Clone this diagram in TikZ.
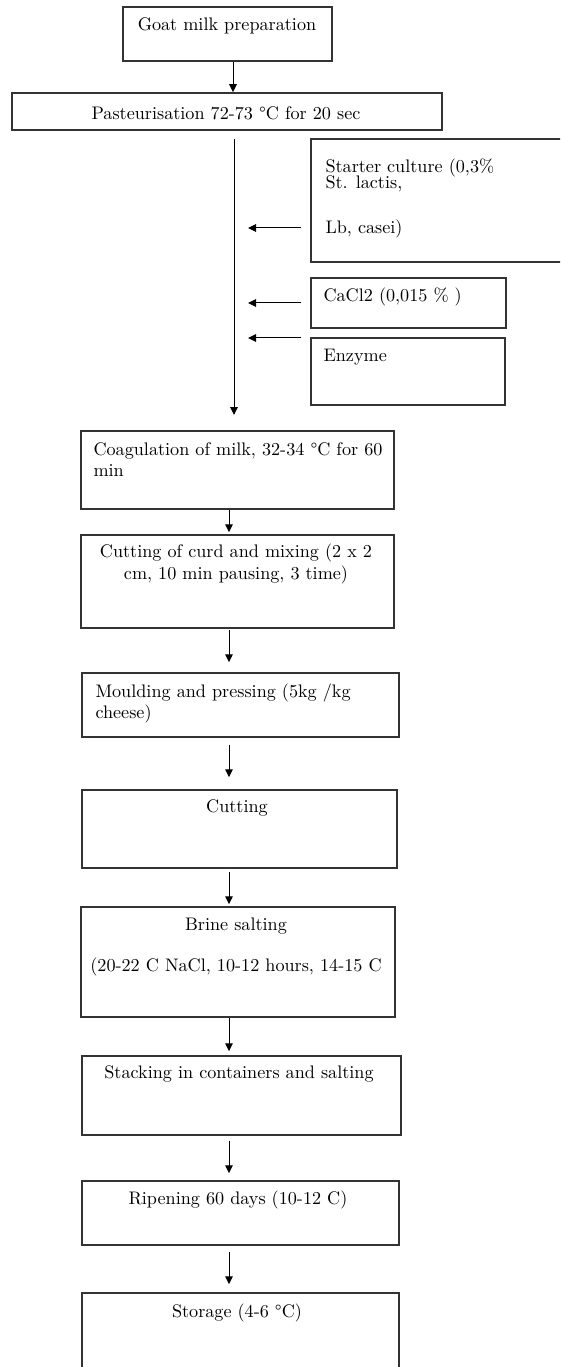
\documentclass[tikz,border=0pt]{standalone}
\usetikzlibrary{fit,arrows.meta}

\begin{document}
\begin{tikzpicture}[x=0.6pt, y=-0.6pt, line width=0.6pt,
        box/.style={draw=black!80, line width=0.9pt, inner sep=0pt},
        txt/.style={inner sep=0pt, font=\fontsize{10.9}{13}\selectfont},
        >={Triangle[length=4.8pt,width=4.6pt]}]
        \useasboundingbox (0,0) rectangle (560,1367);
        \clip (0,0) rectangle (560,1367);
        % boxes
        \node [box, fit={(123,7) (332,61)}] (goat) {};
        \node [box, fit={(12,93) (442,130)}] (pasteur) {};
        \node [box, fit={(311,139) (620,262)}] (starter) {};
        \node [box, fit={(311,278) (506,328)}] (cacl) {};
        \node [box, fit={(311,338) (505,405)}] (enzyme) {};
        \node [box, fit={(81,431) (394,509)}] (coag) {};
        \node [box, fit={(81,535) (394,628)}] (curd) {};
        \node [box, fit={(82,673) (399,737)}] (mould) {};
        \node [box, fit={(82,790) (397,868)}] (cut) {};
        \node [box, fit={(81,907) (395,1017)}] (brine) {};
        \node [box, fit={(82,1056) (401,1135)}] (stack) {};
        \node [box, fit={(82,1181) (399,1245)}] (ripen) {};
        \node [box, fit={(82,1293) (399,1420)}] (storage) {};
        % texts
        \node [txt] (goatT) at (227,26) {Goat milk preparation};
        \node [txt] (pasteurT) at (226,113) {Pasteurisation 72-73 °C for 20 sec};
        \node [txt, anchor=north west, align=left] (starterT) at (325,158) {Starter culture (0,3\%\\[-3pt] St. lactis,\\[14pt] Lb, casei)};
        \node [txt, anchor=west] (caclT) at (323,297) {CaCl2 (0,015 \% )};
        \node [txt, anchor=west] (enzymeT) at (323,357) {Enzyme};
        \node [txt, anchor=north west, align=left] (coagT) at (93,442) {Coagulation of milk, 32-34 °C for 60\\ min};
        \node [txt, align=center] (curdT) at (236,564) {Cutting of curd and mixing (2 x 2\\ cm, 10 min pausing, 3 time)};
        \node [txt, anchor=north west, align=left] (mouldT) at (95,683) {Moulding and pressing (5kg /kg\\ cheese)};
        \node [txt] (cutT) at (237,808) {Cutting};
        \node [txt, align=center] (brineT) at (236,947) {Brine salting\\[12pt] (20-22 C NaCl, 10-12 hours, 14-15 C};
        \node [txt] (stackT) at (239,1074) {Stacking in containers and salting};
        \node [txt] (ripenT) at (238,1200) {Ripening 60 days (10-12 C)};
        \node [txt] (storageT) at (237,1313) {Storage (4-6 °C)};
        % connectors
        \coordinate (ax1) at (233,0);
        \coordinate (ax) at (229,0);
        \coordinate (mtop) at (234,139);
        \coordinate (mbot) at (234,415);
        \coordinate (in1) at (248,228);
        \coordinate (in2) at (248,303);
        \coordinate (in3) at (248,338);
        \draw [->] (goat.south -| ax1) -- (pasteur.north -| ax1);
        \draw [->] (mtop) -- (mbot);
        \draw [->, shorten <=5.4pt] (starter.west |- in1) -- (in1);
        \draw [->, shorten <=5.4pt] (cacl.west |- in2) -- (in2);
        \draw [->, shorten <=5.4pt] (enzyme.west |- in3) -- (in3);
        \draw [->, shorten >=1.2pt] (coag.south -| ax) -- (curd.north -| ax);
        \draw [->, shorten <=0.6pt, shorten >=6pt] (curd.south -| ax) -- (mould.north -| ax);
        \draw [->, shorten <=4.2pt, shorten >=7.2pt] (mould.south -| ax) -- (cut.north -| ax);
        \draw [->, shorten <=1.8pt, shorten >=1.2pt] (cut.south -| ax) -- (brine.north -| ax);
        \draw [->, shorten >=2.4pt] (brine.south -| ax) -- (stack.north -| ax);
        \draw [->, shorten <=3pt, shorten >=4.2pt] (stack.south -| ax) -- (ripen.north -| ax);
        \draw [->, shorten <=3.6pt, shorten >=4.8pt] (ripen.south -| ax) -- (storage.north -| ax);
\end{tikzpicture}
\end{document}
